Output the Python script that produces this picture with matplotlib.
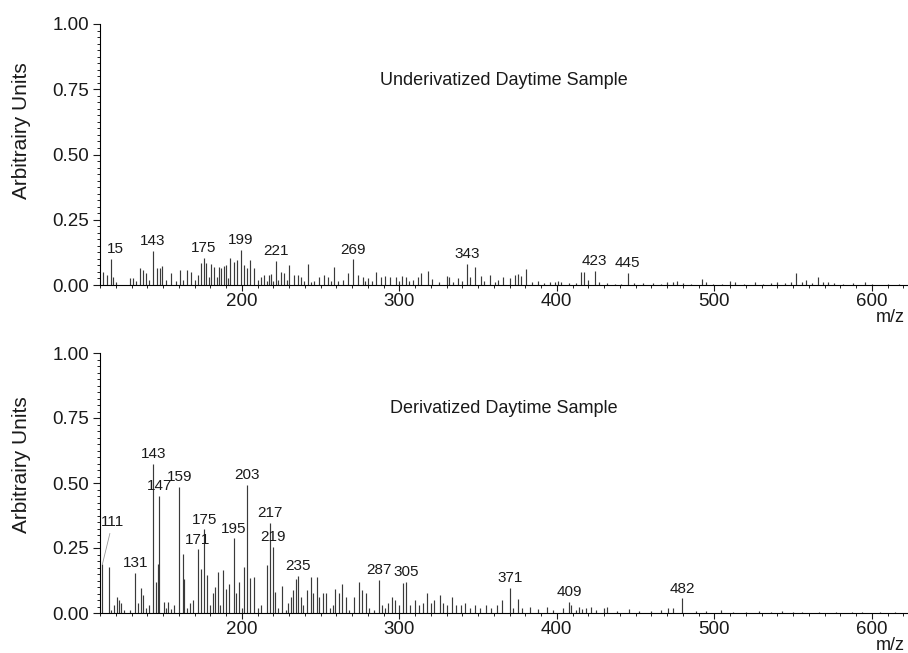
import numpy as np
import matplotlib
matplotlib.use('Agg')
import matplotlib.pyplot as plt
from matplotlib.ticker import MultipleLocator, FormatStrFormatter

plt.rcParams['font.family'] = ['Liberation Sans', 'DejaVu Sans']

# --- top panel: underivatized sample (m/z, relative intensity) ---
top_mz = [112, 114.5, 117, 118.5, 120, 129, 131, 133, 135.5, 137, 139, 141, 143.5, 146, 148, 149.5, 152, 155,
          158, 161, 163, 165.5, 167.5, 170, 172, 174, 176, 177, 179, 180.5, 182.5, 184, 185.5, 187, 188.7, 190,
          191, 192.6, 195, 197, 199.4, 201.5, 203.6, 205.3, 207.9, 210, 212, 214, 216, 217.4, 218.5, 220, 221.7,
          223, 224.8, 227, 228.5, 230, 232.9, 235.5, 237.6, 239.5, 241.8, 244, 246, 249.3, 252.4, 254.6, 256.5,
          258.8, 261, 264, 267.3, 270.5, 273.7, 276.9, 278.5, 280, 283, 285.4, 288.5, 291, 294,
          298, 300, 302, 304, 306, 309, 312, 314, 318, 321, 325, 330.6, 331.7, 334, 337.3, 340, 343.3, 345, 348,
          352, 354, 357.6, 360.5, 363, 366, 370, 373.5, 375.6, 377.3, 380.4, 384, 388, 392, 396, 399, 401, 403,
          408, 412, 415.5, 417.6, 420, 424, 427, 432, 437, 441, 445, 449, 455, 461, 466, 470, 474, 476.5,
          480, 485, 492, 495, 499, 505, 510, 513, 519, 526, 531, 536, 540, 545, 549, 552, 555.8, 558, 562, 565.9,
          569, 572, 576, 582, 588, 596, 600, 610, 617]
top_int = [0.051, 0.038, 0.100, 0.030, 0.012, 0.026, 0.026, 0.015, 0.064, 0.057, 0.045, 0.020, 0.132, 0.064,
           0.064, 0.073, 0.020, 0.045, 0.015, 0.057, 0.020, 0.057, 0.051, 0.020, 0.038, 0.083, 0.105, 0.083, 0.030,
           0.079, 0.070, 0.030, 0.070, 0.064, 0.074, 0.077,
           0.025, 0.105, 0.089, 0.096, 0.135, 0.077, 0.064, 0.096, 0.064, 0.020, 0.032, 0.038, 0.015, 0.038, 0.041,
           0.015, 0.092, 0.020, 0.051, 0.045, 0.020, 0.077, 0.038, 0.038, 0.032, 0.015, 0.079, 0.012, 0.015, 0.032,
           0.038, 0.032, 0.015, 0.070, 0.015, 0.020, 0.045, 0.098, 0.038, 0.032, 0.015, 0.026, 0.015, 0.051, 0.032,
           0.036, 0.030,
           0.030, 0.015, 0.033, 0.032, 0.015, 0.020, 0.030, 0.046, 0.055, 0.022, 0.010, 0.033, 0.030, 0.012, 0.026,
           0.017, 0.080, 0.030, 0.068, 0.036, 0.017, 0.038, 0.012, 0.020, 0.030, 0.026, 0.038, 0.042, 0.033, 0.063,
           0.010, 0.017, 0.008, 0.010, 0.012, 0.017, 0.010, 0.006, 0.008, 0.049, 0.049, 0.020, 0.055, 0.010, 0.006,
           0.005, 0.004, 0.046, 0.008, 0.006, 0.007, 0.005, 0.010, 0.013, 0.015,
           0.006, 0.005, 0.023, 0.010, 0.005, 0.004, 0.017, 0.010, 0.005, 0.013, 0.005, 0.006, 0.013, 0.007, 0.010,
           0.047, 0.013, 0.020, 0.008, 0.030, 0.010, 0.010, 0.008, 0.005, 0.006, 0.010, 0.005, 0.003, 0.003]
top_label_mz = [117, 143.5, 176, 199.4, 221.7, 270.5, 343.3, 424, 445]
top_label_txt = ['15', '143', '175', '199', '221', '269', '343', '423', '445']

# --- bottom panel: derivatized sample ---
bot_mz = [111.5, 115.5, 117, 119, 120.5, 122, 123.5, 125, 129, 132.5, 134, 136, 137, 139, 141, 143.9, 145.5,
          146.6, 147.7, 150.4, 152, 153, 155, 157, 160.3, 162.4, 163.5, 165, 167, 169, 172, 174.1, 176.2, 177.9,
          180, 181.7, 183.3, 184.9, 186.5, 188, 190, 192, 195.1, 196.2, 198.5, 200, 201.5, 203.6,
          205.5, 207.8, 210, 212, 215.8, 217.9, 219.6, 220.8, 223, 225.3, 228, 229.5, 231, 232.5, 234.2, 235.9,
          237.5, 239, 241.6, 243.7, 245.5, 247.5, 249, 251.5, 253.5, 256, 258, 259.5, 262, 263.7, 266, 268, 271.2,
          274.3, 276.5, 278.6, 281, 284, 287.3, 289, 291, 293, 295.5, 297,
          300, 302.3, 304.4, 307, 310, 312.5, 315, 317.5, 320, 322, 325.6, 328, 330, 333.3, 336, 339, 342, 345,
          348, 351, 355, 358, 362, 365, 370.3, 372, 375.5, 378, 383, 388, 393.5, 397.7,
          404, 407.8, 409.3, 412, 414, 416, 418.8, 422, 425, 430, 431.8, 438, 446, 452, 460, 466, 470.5, 473.6,
          479.5, 488.4, 494.7, 504, 511.6, 520, 528.5, 536, 543.2, 550, 555.9, 566.5, 577, 587.6, 594, 605, 615]
bot_int = [0.187, 0.176, 0.010, 0.030, 0.063, 0.050, 0.040, 0.010, 0.010, 0.153, 0.040, 0.095, 0.070, 0.020,
           0.030, 0.573, 0.120, 0.190, 0.451, 0.044, 0.020, 0.044, 0.015, 0.030, 0.486, 0.227, 0.130, 0.020, 0.040,
           0.050, 0.245, 0.168, 0.322, 0.146, 0.030, 0.076, 0.100, 0.158, 0.030, 0.165, 0.094, 0.111, 0.287, 0.076,
           0.120, 0.020, 0.178, 0.492,
           0.133, 0.140, 0.020, 0.030, 0.184, 0.347, 0.255, 0.079, 0.020, 0.104, 0.010, 0.040, 0.060, 0.090, 0.129,
           0.142, 0.060, 0.030, 0.088, 0.140, 0.076, 0.140, 0.060, 0.076, 0.076, 0.020, 0.030, 0.092, 0.076, 0.111,
           0.060, 0.010, 0.060, 0.120, 0.090, 0.076, 0.020, 0.010, 0.127, 0.030, 0.020, 0.040, 0.060, 0.050,
           0.030, 0.114, 0.120, 0.030, 0.050, 0.030, 0.040, 0.078, 0.040, 0.050, 0.070, 0.040, 0.030, 0.060, 0.030,
           0.030, 0.040, 0.020, 0.030, 0.020, 0.030, 0.020, 0.030, 0.050, 0.098, 0.020, 0.055, 0.020, 0.024, 0.014,
           0.024, 0.012,
           0.018, 0.044, 0.031, 0.012, 0.024, 0.014, 0.018, 0.022, 0.012, 0.020, 0.024, 0.008, 0.014, 0.008, 0.008,
           0.010, 0.018, 0.020, 0.056, 0.006, 0.006, 0.012, 0.005, 0.005, 0.006, 0.004, 0.006, 0.004, 0.005, 0.005,
           0.004, 0.005, 0.004, 0.003, 0.003]
bot_label_mz = [132.5, 143.9, 147.7, 160.3, 172, 176.2, 195.1, 203.6, 217.9, 219.6, 235.9, 287.3, 304.4,
                370.3, 407.8, 479.5]
bot_label_txt = ['131', '143', '147', '159', '171', '175', '195', '203', '217', '219', '235', '287', '305',
                 '371', '409', '482']

PEAK_COLOR = '#3a3a3a'
TXT = '#1a1a1a'


def draw_panel(ax, mz, inten, lab_mz, lab_txt, title):
    mz = np.array(mz)
    inten = np.array(inten)
    ax.vlines(mz, 0, inten, color=PEAK_COLOR, lw=0.85)
    for m, t in zip(lab_mz, lab_txt):
        i = np.argmin(np.abs(mz - m))
        dx = 3 if t == '15' else 0
        ax.annotate(t, xy=(mz[i], inten[i]), xytext=(dx, 2), textcoords='offset points',
                    ha='center', va='bottom', fontsize=11, color=TXT)
    ax.text(0.5, 0.785, title, transform=ax.transAxes, ha='center', va='center', fontsize=13, color=TXT)

    ax.set_xlim(110, 623)
    ax.set_ylim(0, 1)
    for s in ['top', 'right']:
        ax.spines[s].set_visible(False)
    ax.spines['left'].set_linewidth(0.8)
    ax.spines['bottom'].set_linewidth(0.8)
    ax.xaxis.set_major_locator(MultipleLocator(100))
    ax.xaxis.set_minor_locator(MultipleLocator(10))
    ax.yaxis.set_major_locator(MultipleLocator(0.25))
    ax.yaxis.set_minor_locator(MultipleLocator(0.025))
    ax.yaxis.set_major_formatter(FormatStrFormatter('%.2f'))
    ax.tick_params(which='major', direction='out', length=5, width=0.8, labelsize=13.5, pad=3, colors=TXT)
    ax.tick_params(axis='x', which='major', length=4, pad=1.5)
    ax.tick_params(which='minor', direction='out', length=2.5, width=0.6)
    ax.tick_params(axis='x', which='minor', length=1.8)
    ax.annotate('m/z', xy=(1, 0), xycoords='axes fraction', xytext=(-2, -17.5), textcoords='offset points',
                ha='right', va='top', fontsize=13, color=TXT)


fig = plt.figure(figsize=(9.08, 6.53), dpi=100)
ax1 = fig.add_axes([100 / 908, 1 - 285 / 653, 808 / 908, 261 / 653])
ax2 = fig.add_axes([100 / 908, 1 - 613 / 653, 808 / 908, 260 / 653])

draw_panel(ax1, top_mz, top_int, top_label_mz, top_label_txt, 'Underivatized Daytime Sample')
draw_panel(ax2, bot_mz, bot_int, bot_label_mz, bot_label_txt, 'Derivatized Daytime Sample')

# 111 peak label sits off to the side with a thin leader line
ax2.annotate('111', xy=(111.5, 0.187), xytext=(118, 0.322), ha='center', va='bottom', fontsize=11,
             color=TXT, arrowprops=dict(arrowstyle='-', color='#999999', lw=0.6, shrinkA=1, shrinkB=0))

fig.text(22 / 908, 1 - 131 / 653, 'Arbitrairy Units', rotation=90, ha='center', va='center', fontsize=15,
         color=TXT)
fig.text(22 / 908, 1 - 465 / 653, 'Arbitrairy Units', rotation=90, ha='center', va='center', fontsize=15,
         color=TXT)

fig.savefig('out.png', dpi=100)
